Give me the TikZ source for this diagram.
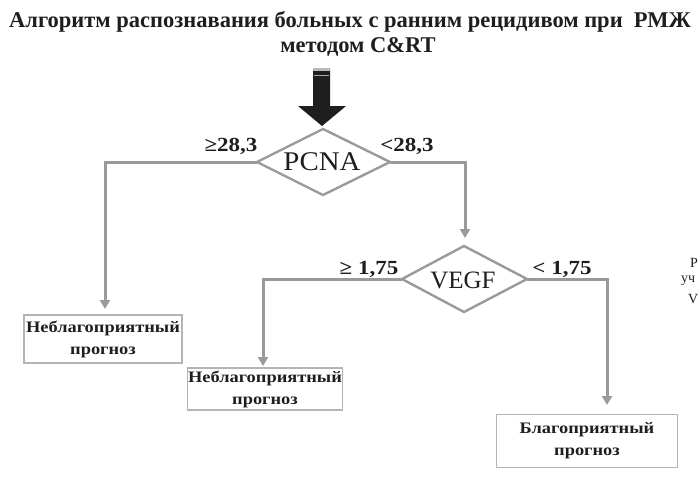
\documentclass[tikz,border=0pt]{standalone}
\usepackage{fontspec}
\setmainfont{Liberation Serif}
\newfontfamily\widefont[FakeStretch=1.15]{Liberation Serif}
\newfontfamily\midfont[FakeStretch=1.07]{Liberation Serif}
\usetikzlibrary{arrows.meta,shapes.geometric}
\definecolor{lin}{HTML}{9A9A9A}
\definecolor{boxline}{HTML}{B4B4B4}
\definecolor{ink}{HTML}{1E1E1E}
\tikzset{
  conn/.style={draw=lin,line width=3pt,-{Triangle[width=10pt,length=9pt]}},
  decide/.style={draw=lin,line width=2.4pt,line join=miter},
  outbox/.style={draw=boxline,line width=1.4pt,fill=white,align=center,inner sep=0pt,
    font=\widefont\fontsize{16}{22}\selectfont\bfseries,text=ink},
  lbl/.style={font=\widefont\fontsize{20}{20}\selectfont\bfseries,text=ink,inner sep=0pt},
  frag/.style={font=\fontsize{14}{14}\selectfont,text=ink,inner sep=0pt,anchor=west}
}
\begin{document}
\begin{tikzpicture}[x=1pt,y=-1pt]
\useasboundingbox[fill=white] (0,0) rectangle (700,487);
% title
\node[font=\fontsize{22.5}{22.5}\selectfont\bfseries,text=ink,inner sep=0pt] (t1) at (350,22) {Алгоритм распознавания больных с ранним рецидивом при\ \ РМЖ};
\node[font=\fontsize{22.5}{22.5}\selectfont\bfseries,text=ink,inner sep=0pt] (t2) at (358,47) {методом C\&RT};
% big arrow
\fill[ink] (313,68) -- (330,68) -- (330,106) -- (346,106) -- (322,126) -- (298,106) -- (313,106) -- cycle;
\fill[gray!55] (313,68) rectangle (330,71);
\draw[gray!70,line width=1pt] (314,75) -- (329,75);
\coordinate (arrowtip) at (322,126);
% diamonds
\draw[decide] (257,162) -- (323,129) -- (390,162) -- (323,195) -- cycle;
\node[font=\midfont\fontsize{27}{27}\selectfont,text=ink,inner sep=0pt] (pcna) at (322,162) {PCNA};
\coordinate (pl) at (257,162);
\coordinate (pr) at (390,162);
\draw[decide] (402,279) -- (464,246) -- (527,279) -- (464,312) -- cycle;
\node[font=\fontsize{25}{25}\selectfont,text=ink,inner sep=0pt] (vegf) at (463,280) {VEGF};
\coordinate (vl) at (402,279);
\coordinate (vr) at (527,279);
\coordinate (vt) at (464,246);
% boxes
\node[outbox,minimum width=158pt,minimum height=48pt] (b1) at (103,339) {Неблагоприятный\\прогноз};
\node[outbox,minimum width=155pt,minimum height=42pt] (b2) at (265,389) {Неблагоприятный\\прогноз};
\node[outbox,minimum width=181pt,minimum height=53pt] (b3) at (587,441) {Благоприятный\\прогноз};
% connectors
\draw[conn] (pl) -- (105,162) -- (105,309);
\draw[conn] (pr) -- (465,162) -- (465,238);
\draw[conn] (vl) -- (263,279) -- (263,366);
\draw[conn] (vr) -- (607,279) -- (607,405);
% labels
\node[lbl] (l1) at (231,146) {≥28,3};
\node[lbl] (l2) at (407,146) {<28,3};
\node[lbl] (l3) at (369,269) {≥ 1,75};
\node[lbl] (l4) at (562,269) {< 1,75};
% text fragments at right edge
\node[frag] (f1) at (690,263) {Р};
\node[frag] (f2) at (681,281) {уч};
\node[frag] (f3) at (688,299) {V};
\end{tikzpicture}
\end{document}
